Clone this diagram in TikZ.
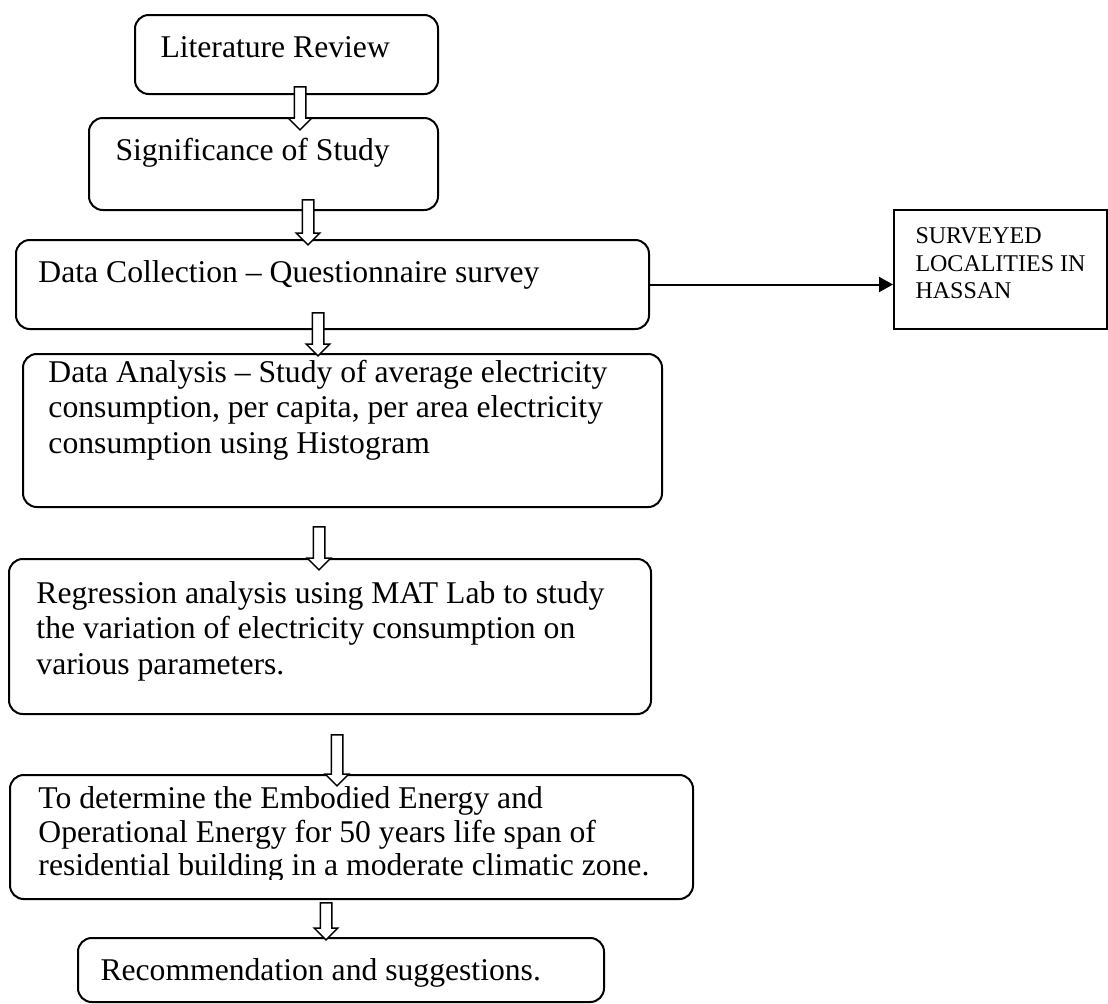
\documentclass[tikz,border=0pt]{standalone}
\usepackage{fontspec}
\setmainfont{Liberation Serif}
\usetikzlibrary{shapes.arrows, arrows.meta, positioning}

\begin{document}
\begin{tikzpicture}[
    x=0.4pt, y=-0.4pt,
    stepbox/.style={draw, line width=0.8pt, rounded corners=5.5pt, anchor=north west, inner sep=0pt},
    sidebox/.style={draw, line width=0.8pt, anchor=north west, inner sep=0pt},
    boxtext/.style={anchor=north west, inner sep=0pt, align=left, font=\fontsize{12.66}{14.2}\selectfont},
    sidetext/.style={anchor=north west, inner sep=0pt, align=left, font=\fontsize{9.6}{11}\selectfont},
    downarrow/.style={single arrow, draw, fill=white, line width=0.6pt, rotate=-90, inner xsep=0pt, inner ysep=2pt, single arrow head extend=2.4pt, minimum width=8.8pt},
    arrow/.style={-{Triangle[length=5.6pt, width=6pt]}, line width=0.8pt}
]
\useasboundingbox (0,0) rectangle (1108,1003);

% Boxes
\node[stepbox, minimum width=121.2pt, minimum height=31.6pt] (lit) at (134,14) {};
\node[stepbox, minimum width=139.6pt, minimum height=36.8pt] (sig) at (88,117) {};
\node[stepbox, minimum width=253.2pt, minimum height=35.6pt] (data) at (15,239) {};
\node[stepbox, minimum width=255.6pt, minimum height=61.2pt] (anal) at (22,353) {};
\node[stepbox, minimum width=256.8pt, minimum height=62pt] (regr) at (8,558) {};
\node[stepbox, minimum width=273.2pt, minimum height=49.6pt] (embod) at (9,774) {};
\node[stepbox, minimum width=210.4pt, minimum height=25.6pt] (recom) at (77,937) {};
\node[sidebox, minimum width=85.2pt, minimum height=47.6pt] (surv) at (893,209) {};

% Texts
\node[boxtext] (littext) at (160,32) {\strut Literature Review};
\node[boxtext] (sigtext) at (115,135) {\strut Significance of Study};
\node[boxtext] (datatext) at (38,257) {\strut Data Collection -- Questionnaire survey};
\node[boxtext] (analtext) at (48,357) {\strut Data Analysis -- Study of average electricity\\consumption, per capita, per area electricity\\consumption using Histogram};
\node[boxtext] (regrtext) at (36,578) {\strut Regression analysis using MAT Lab to study\\the variation of electricity consumption on\\various parameters.};
\begin{scope}
  \clip (0,0) rectangle (1108,879);
  \node[boxtext, font=\fontsize{12.66}{13.4}\selectfont] (embodtext) at (38,785) {\strut To determine the Embodied Energy and\\Operational Energy for 50 years life span of\\residential building in a moderate climatic zone.};
\end{scope}
\node[boxtext] (recomtext) at (100,955) {\strut Recommendation and suggestions.};
\node[sidetext] (survtext) at (915,224) {\strut SURVEYED\\LOCALITIES IN\\HASSAN};

% Block arrows
\node[downarrow, minimum height=17.2pt] (a1) at (300,105.5) {};
\node[downarrow, minimum height=18pt] (a2) at (308,219.5) {};
\node[downarrow, minimum height=17.2pt] (a3) at (318,331.5) {};
\node[downarrow, minimum height=17.2pt] (a4) at (319,545.5) {};
\node[downarrow, minimum height=20.4pt] (a5) at (337,757.5) {};
\node[downarrow, minimum height=14.8pt] (a6) at (326,918.5) {};

% Side arrow
\draw[arrow] (data.east) -- (surv.west |- data.east);

\end{tikzpicture}
\end{document}
